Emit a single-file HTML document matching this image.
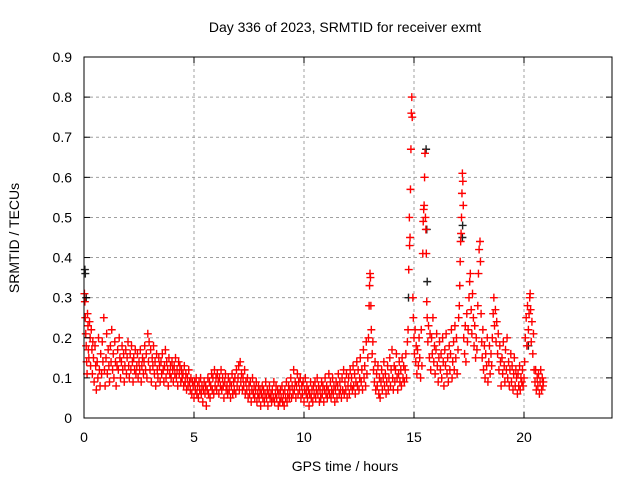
<!DOCTYPE html>
<html><head><meta charset="utf-8"><style>
html,body{margin:0;padding:0;background:#fff;}
svg{display:block;font-family:"Liberation Sans",sans-serif;}
</style></head><body>
<svg id="chart" width="640" height="480" xmlns="http://www.w3.org/2000/svg">
<rect width="640" height="480" fill="#fff"/>
<g id="grid"></g>
<g id="blackpts"></g>
<g id="redpts"></g>
<g id="axes"></g>
<text x="345" y="32" text-anchor="middle" font-size="14">Day 336 of 2023, SRMTID for receiver exmt</text>
<text x="345" y="471" text-anchor="middle" font-size="14">GPS time / hours</text>
<text transform="translate(19,238) rotate(-90)" text-anchor="middle" font-size="14">SRMTID / TECUs</text>
</svg>
<script>
const xTicks=[0,5,10,15,20];
const yTicks=[0,0.1,0.2,0.3,0.4,0.5,0.6,0.7,0.8,0.9];
const yTickLabels=["0","0.1","0.2","0.3","0.4","0.5","0.6","0.7","0.8","0.9"];
const redTimes=[
0.02,0.04,0.06,0.08,0.10,0.12,0.14,0.16,0.18,0.20,
0.22,0.25,0.28,0.30,0.33,0.36,0.38,0.40,0.43,0.46,
0.5,0.53,0.56,0.6,0.63,0.66,0.7,0.73,0.76,0.8,
0.83,0.86,0.9,0.93,0.96,1.0,1.03,1.06,1.1,1.13,
1.16,1.2,1.23,1.26,1.3,1.33,1.36,1.4,1.43,1.46,
1.5,1.53,1.56,1.6,1.63,1.66,1.7,1.73,1.76,1.8,
1.83,1.86,1.9,1.93,1.96,2.0,2.03,2.06,2.1,2.13,
2.16,2.2,2.23,2.26,2.3,2.33,2.36,2.4,2.43,2.46,
2.5,2.53,2.56,2.6,2.63,2.66,2.7,2.73,2.76,2.8,
2.83,2.86,2.9,2.93,2.96,3.0,3.03,3.06,3.1,3.13,
3.16,3.2,3.23,3.26,3.3,3.33,3.36,3.4,3.43,3.46,
3.5,3.53,3.56,3.6,3.63,3.66,3.7,3.73,3.76,3.8,
3.83,3.86,3.9,3.93,3.96,4.0,4.03,4.06,4.1,4.13,
4.16,4.2,4.23,4.26,4.3,4.33,4.36,4.4,4.43,4.46,
4.5,4.53,4.56,4.6,4.63,4.66,4.7,4.73,4.76,4.8,
4.83,4.86,4.9,4.93,4.96,5.0,5.03,5.06,5.1,5.13,
5.16,5.2,5.23,5.26,5.3,5.33,5.36,5.4,5.43,5.46,
5.5,5.53,5.56,5.6,5.63,5.66,5.7,5.73,5.76,5.8,
5.83,5.86,5.9,5.93,5.96,6.0,6.03,6.06,6.1,6.13,
6.16,6.2,6.23,6.26,6.3,6.33,6.36,6.4,6.43,6.46,
6.5,6.53,6.56,6.6,6.63,6.66,6.7,6.73,6.76,6.8,
6.83,6.86,6.9,6.93,6.96,7.0,7.03,7.06,7.1,7.13,
7.16,7.2,7.23,7.26,7.3,7.33,7.36,7.4,7.43,7.46,
7.5,7.53,7.56,7.6,7.63,7.66,7.7,7.73,7.76,7.8,
7.83,7.86,7.9,7.93,7.96,8.0,8.03,8.06,8.1,8.13,
8.16,8.2,8.23,8.26,8.3,8.33,8.36,8.4,8.43,8.46,
8.5,8.53,8.56,8.6,8.63,8.66,8.7,8.73,8.76,8.8,
8.83,8.86,8.9,8.93,8.96,9.0,9.03,9.06,9.1,9.13,
9.16,9.2,9.23,9.26,9.3,9.33,9.36,9.4,9.43,9.46,
9.5,9.53,9.56,9.6,9.63,9.66,9.7,9.73,9.76,9.8,
9.83,9.86,9.9,9.93,9.96,10.0,10.03,10.06,10.1,10.13,
10.16,10.2,10.23,10.26,10.3,10.33,10.36,10.4,10.43,10.46,
10.5,10.53,10.56,10.6,10.63,10.66,10.7,10.73,10.76,10.8,
10.83,10.86,10.9,10.93,10.96,11.0,11.03,11.06,11.1,11.13,
11.16,11.2,11.23,11.26,11.3,11.33,11.36,11.4,11.43,11.46,
11.5,11.53,11.56,11.6,11.63,11.66,11.7,11.73,11.76,11.8,
11.83,11.86,11.9,11.93,11.96,12.0,12.03,12.06,12.1,12.13,
12.16,12.2,12.23,12.26,12.3,12.33,12.36,12.4,12.43,12.46,
12.5,12.53,12.56,12.6,12.63,12.66,12.7,12.73,12.76,12.8,
12.83,12.86,12.9,12.93,12.96,12.98,13.0,13.02,13.04,13.06,
13.1,13.13,13.16,13.2,13.23,13.26,13.3,13.33,13.36,13.4,
13.43,13.46,13.5,13.53,13.56,13.6,13.63,13.66,13.7,13.73,
13.76,13.8,13.83,13.86,13.9,13.93,13.96,14.0,14.03,14.06,
14.1,14.13,14.16,14.2,14.23,14.26,14.3,14.33,14.36,14.4,
14.43,14.46,14.5,14.53,14.56,14.6,14.63,14.66,14.7,14.73,
14.76,14.79,14.8,14.82,14.84,14.86,14.88,14.9,14.92,14.95,
14.97,15.0,15.02,15.05,15.08,15.1,15.13,15.16,15.2,15.23,
15.26,15.3,15.33,15.36,15.4,15.42,15.44,15.46,15.48,15.5,
15.52,15.54,15.56,15.58,15.6,15.63,15.66,15.7,15.73,15.76,
15.8,15.83,15.86,15.9,15.93,15.96,16.0,16.03,16.06,16.1,
16.13,16.16,16.2,16.23,16.26,16.3,16.33,16.36,16.4,16.43,
16.46,16.5,16.53,16.56,16.6,16.63,16.66,16.7,16.73,16.76,
16.8,16.83,16.86,16.9,16.93,16.96,17.0,17.03,17.06,17.08,
17.1,17.12,17.14,17.16,17.18,17.2,17.22,17.24,17.26,17.3,
17.33,17.36,17.4,17.43,17.46,17.5,17.53,17.56,17.6,17.63,
17.66,17.7,17.73,17.76,17.8,17.83,17.86,17.9,17.93,17.96,
18.0,18.02,18.05,18.08,18.1,18.13,18.16,18.2,18.23,18.26,
18.3,18.33,18.36,18.4,18.43,18.46,18.5,18.53,18.56,18.6,
18.63,18.66,18.7,18.73,18.76,18.8,18.83,18.86,18.9,18.93,
18.96,19.0,19.03,19.06,19.1,19.13,19.16,19.2,19.23,19.26,
19.3,19.33,19.36,19.4,19.43,19.46,19.5,19.53,19.56,19.6,
19.63,19.66,19.7,19.73,19.76,19.8,19.83,19.86,19.9,19.93,
19.96,20.0,20.03,20.06,20.1,20.13,20.16,20.2,20.23,20.26,
20.28,20.3,20.33,20.36,20.4,20.43,20.46,20.5,20.53,20.56,
20.6,20.63,20.66,20.7,20.73,20.76,20.8,20.83,20.86,20.88];
const redValues=[
.31,.29,.25,.21,.18,.14,.11,.26,.23,.17,
.15,.24,.2,.13,.22,.17,.11,.19,.15,.09,
.18,.13,.07,.14,.10,.2,.12,.08,.16,.11,
.19,.14,.25,.12,.08,.15,.21,.11,.17,.13,
.09,.18,.14,.22,.12,.16,.1,.19,.14,.08,
.13,.17,.12,.2,.15,.1,.14,.18,.12,.16,
.09,.13,.17,.11,.15,.19,.13,.1,.16,.12,
.18,.14,.09,.15,.12,.17,.11,.13,.16,.1,
.14,.12,.17,.09,.13,.15,.11,.14,.18,.12,
.16,.1,.21,.14,.19,.12,.17,.09,.15,.13,
.18,.11,.14,.08,.16,.12,.1,.15,.13,.09,
.14,.11,.16,.12,.09,.13,.17,.1,.14,.12,
.08,.15,.11,.13,.1,.14,.12,.09,.13,.11,
.15,.1,.12,.08,.14,.11,.13,.09,.12,.1,
.11,.08,.13,.09,.11,.07,.1,.08,.12,.09,
.07,.1,.06,.09,.08,.05,.09,.07,.1,.06,
.08,.05,.09,.07,.1,.06,.08,.04,.07,.09,
.06,.08,.03,.07,.1,.06,.09,.05,.08,.11,
.07,.1,.06,.12,.08,.1,.07,.11,.09,.06,
.1,.08,.12,.07,.1,.08,.05,.09,.11,.07,
.08,.06,.1,.07,.09,.05,.08,.11,.06,.09,
.07,.1,.06,.12,.08,.1,.13,.07,.14,.09,
.11,.07,.1,.08,.12,.06,.09,.07,.1,.05,
.08,.06,.09,.04,.07,.1,.06,.08,.05,.07,
.09,.04,.06,.08,.05,.07,.03,.06,.08,.05,
.07,.04,.06,.09,.05,.07,.03,.06,.08,.05,
.06,.04,.07,.05,.09,.04,.06,.08,.05,.07,
.03,.06,.04,.07,.05,.08,.04,.06,.03,.07,
.05,.09,.04,.06,.08,.05,.07,.1,.05,.08,
.06,.12,.07,.09,.05,.08,.11,.06,.09,.07,
.1,.05,.08,.06,.09,.04,.07,.1,.06,.08,
.05,.07,.03,.06,.09,.05,.07,.04,.08,.06,
.09,.05,.07,.1,.06,.08,.04,.07,.05,.09,
.06,.08,.04,.07,.1,.06,.08,.05,.07,.11,
.06,.09,.05,.07,.1,.06,.08,.04,.07,.09,
.05,.08,.11,.06,.09,.07,.05,.1,.07,.12,
.06,.09,.07,.11,.05,.08,.1,.06,.12,.08,
.1,.07,.13,.08,.11,.06,.09,.14,.08,.12,
.07,.1,.15,.09,.12,.07,.17,.1,.13,.08,
.19,.11,.15,.2,.28,.33,.36,.35,.28,.22,
.16,.19,.12,.09,.14,.07,.11,.08,.13,.06,
.1,.05,.09,.12,.07,.1,.14,.08,.11,.06,
.09,.13,.07,.1,.15,.08,.12,.17,.1,.07,
.13,.09,.12,.16,.1,.07,.11,.14,.09,.12,
.08,.15,.1,.13,.09,.12,.16,.1,.19,.22,
.37,.5,.43,.45,.57,.67,.76,.8,.75,.3,
.25,.2,.16,.22,.14,.18,.11,.17,.13,.2,
.15,.1,.22,.13,.41,.49,.52,.53,.6,.66,
.5,.47,.41,.29,.25,.19,.23,.15,.21,.12,
.2,.16,.25,.14,.18,.11,.17,.21,.13,.09,
.15,.19,.12,.16,.1,.2,.14,.08,.17,.13,
.21,.11,.15,.09,.18,.12,.16,.22,.1,.14,
.19,.12,.23,.15,.2,.11,.17,.25,.28,.33,
.39,.44,.46,.5,.56,.61,.59,.53,.2,.16,
.23,.14,.26,.19,.22,.3,.34,.36,.27,.21,
.31,.25,.18,.23,.15,.2,.17,.28,.36,.42,
.44,.39,.26,.19,.15,.22,.12,.18,.1,.16,
.13,.2,.09,.14,.18,.11,.16,.13,.2,.26,
.3,.23,.27,.19,.24,.16,.21,.12,.18,.14,
.08,.15,.11,.19,.13,.09,.17,.12,.2,.1,
.14,.08,.12,.16,.09,.13,.07,.11,.15,.08,
.12,.1,.06,.11,.08,.13,.07,.1,.09,.12,
.08,.1,.14,.2,.25,.18,.28,.22,.26,.3,
.31,.27,.19,.24,.16,.21,.12,.09,.12,.07,
.1,.08,.11,.06,.09,.12,.07,.1,.08,.09];
const blackTimes=[0.04,0.06,0.1,14.75,15.55,15.58,15.6,17.2,17.21,20.2];
const blackValues=[0.37,0.36,0.3,0.3,0.67,0.47,0.34,0.45,0.48,0.18];

const L=84,R=612,T=57,B=418,XMAX=24,YMAX=0.9;
const sx=v=>L+(R-L)*v/XMAX;
const sy=v=>B-(B-T)*v/YMAX;
const NS="http://www.w3.org/2000/svg";
function mk(tag,attrs,parent){const e=document.createElementNS(NS,tag);for(const k in attrs)e.setAttribute(k,attrs[k]);parent.appendChild(e);return e;}
const grid=document.getElementById('grid'),axes=document.getElementById('axes');
xTicks.forEach((t)=>{
  const x=sx(t);
  if(t>0){const g=mk('line',{x1:x,x2:x,y1:T,y2:B,stroke:'#a0a0a0','stroke-dasharray':'3,3','stroke-width':1},grid);
  
  }
  mk('line',{x1:x,x2:x,y1:B,y2:B-6,stroke:'#000'},axes);
  mk('line',{x1:x,x2:x,y1:T,y2:T+6,stroke:'#000'},axes);
  const lb=mk('text',{x:x,y:B+24,'text-anchor':'middle','font-size':14},axes);
  lb.textContent=String(t);
  
  
});
yTicks.forEach((v,i)=>{
  const y=sy(v);
  if(v>0&&v<YMAX){const g=mk('line',{x1:L,x2:R,y1:y,y2:y,stroke:'#a0a0a0','stroke-dasharray':'3,3','stroke-width':1},grid);
  
  }
  mk('line',{x1:L,x2:L+6,y1:y,y2:y,stroke:'#000'},axes);
  mk('line',{x1:R,x2:R-6,y1:y,y2:y,stroke:'#000'},axes);
  const lb=mk('text',{x:L-12,y:y+5,'text-anchor':'end','font-size':14},axes);
  lb.textContent=yTickLabels[i];
  
  
});
const frame=mk('rect',{x:L,y:T,width:R-L,height:B-T,fill:'none',stroke:'#000','stroke-width':1},axes);


function cross(parent,t,v,color){
  const x=sx(t),y=sy(v);
  return mk('path',{d:`M${x-4},${y}H${x+4}M${x},${y-4}V${y+4}`,stroke:color,'stroke-width':1.4,fill:'none'},parent);
}
const bg=document.getElementById('blackpts');
blackTimes.forEach((t,i)=>{
  const p=cross(bg,t,blackValues[i],'#202020');
  
  
});
const rg=document.getElementById('redpts');
redTimes.forEach((t,i)=>{
  const p=cross(rg,t,redValues[i],'#ff0000');
  
  
});
</script>
</body></html>
